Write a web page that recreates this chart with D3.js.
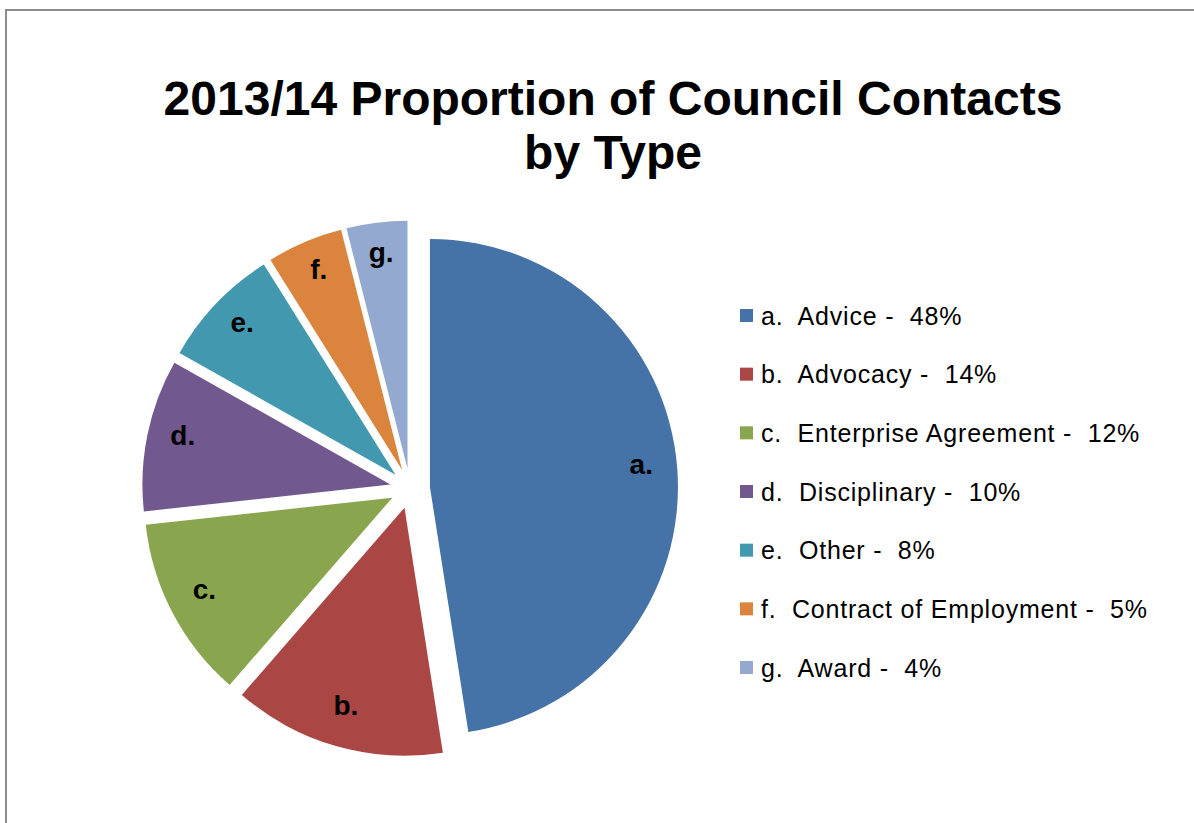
<!DOCTYPE html>
<html>
<head>
<meta charset="utf-8">
<script src="https://cdn.jsdelivr.net/npm/d3@7"></script>
<style>
  html, body { margin: 0; padding: 0; background: #fff; }
  svg { display: block; }
  text { font-family: "Liberation Sans", Arial, Helvetica, sans-serif; }
</style>
</head>
<body>
<svg id="chart" width="1194" height="823"></svg>
<script>
// ---- data ----
const categories = ["a.", "b.", "c.", "d.", "e.", "f.", "g."];
const names = ["Advice", "Advocacy", "Enterprise Agreement", "Disciplinary", "Other", "Contract of Employment", "Award"];
const values = [48, 14, 12, 10, 8, 5, 4];
const colors = ["#4572A7", "#AA4643", "#89A54E", "#71588F", "#4198AF", "#DB843D", "#93A9CF"];
const titleLines = ["2013/14 Proportion of Council Contacts", "by Type"];

// ---- layout ----
const svg = d3.select("#chart");
const W = 1194, H = 823;
const cx = 410, cy = 488.5, R = 248, explode = 20, labelR = 212;

// frame
svg.append("rect")
  .attr("x", 6).attr("y", 10)
  .attr("width", W + 10).attr("height", H + 10)
  .attr("fill", "#fff")
  .attr("stroke", "#8c8c8c").attr("stroke-width", 2);

// title
const title = svg.append("text")
  .attr("text-anchor", "middle")
  .attr("font-size", 48)
  .attr("font-weight", "bold")
  .attr("fill", "#000");
titleLines.forEach((t, i) => {
  title.append("tspan").attr("x", 613).attr("y", 115 + i * 54).text(t);
});

// pie
const data = categories.map((c, i) => ({ cat: c, name: names[i], value: values[i], color: colors[i] }));
const pie = d3.pie().sort(null).value(d => d.value).startAngle(0).endAngle(2 * Math.PI);
const arcs = pie(data);
const arc = d3.arc().innerRadius(0).outerRadius(R);

const g = svg.append("g").attr("transform", `translate(${cx},${cy})`);
const slice = g.selectAll("g.slice").data(arcs).enter().append("g")
  .attr("class", "slice")
  .attr("transform", d => {
    const m = (d.startAngle + d.endAngle) / 2;
    return `translate(${explode * Math.sin(m)},${-explode * Math.cos(m)})`;
  });

slice.append("path")
  .attr("d", arc)
  .attr("fill", d => d.data.color);

slice.append("text")
  .attr("x", d => labelR * Math.sin((d.startAngle + d.endAngle) / 2))
  .attr("y", d => -labelR * Math.cos((d.startAngle + d.endAngle) / 2))
  .attr("dy", "0.12em")
  .attr("text-anchor", "middle")
  .attr("font-size", 28)
  .attr("font-weight", "bold")
  .attr("fill", "#000")
  .text(d => d.data.cat);

// legend
const legend = svg.append("g").attr("transform", "translate(740,0)");
const rowY = d3.scalePoint().domain(categories).range([316, 668]);
const item = legend.selectAll("g.item").data(data).enter().append("g")
  .attr("class", "item")
  .attr("transform", d => `translate(0,${rowY(d.cat)})`);
item.append("rect")
  .attr("x", 0).attr("y", -7)
  .attr("width", 13).attr("height", 13)
  .attr("fill", d => d.color);
item.append("text")
  .attr("x", 21).attr("y", 0)
  .attr("dy", "0.35em")
  .attr("font-size", 25)
  .attr("letter-spacing", 0.8)
  .attr("fill", "#000")
  .style("white-space", "pre")
  .text(d => `${d.cat}  ${d.name} -  ${d.value}%`);
</script>
</body>
</html>
